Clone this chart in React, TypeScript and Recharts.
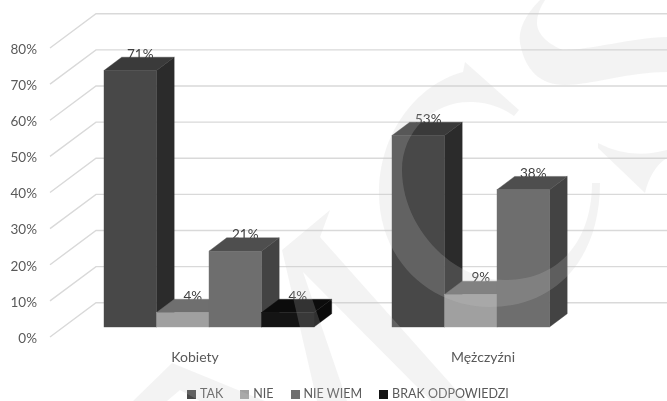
import React from 'react';
import { BarChart, Bar, XAxis, YAxis, CartesianGrid, Legend } from 'recharts';

const categories = ['Kobiety', 'Mężczyźni'];
const tak = [71, 53];
const nie = [4, 9];
const nieWiem = [21, 38];
const brak: (number | null)[] = [4, null];
const yTicks = [0, 10, 20, 30, 40, 50, 60, 70, 80];

const rows = categories.map((name, i) => ({
  name,
  TAK: tak[i],
  NIE: nie[i],
  'NIE WIEM': nieWiem[i],
  'BRAK ODPOWIEDZI': brak[i],
}));

const FONT = 'Lato, "Open Sans", sans-serif';
const DX = 17.7;
const DY = 13.3;

const makeBox = (top: string, side: string) => (props: any) => {
  const { x, y, width: w, height: h, fill, value } = props;
  if (value == null) return <g />;
  const label = Array.isArray(value) ? value[1] : value;
  return (
    <g>
      <text
        x={x + w / 2 + 10}
        y={y - 17}
        textAnchor="middle"
        dominantBaseline="central"
        fontFamily={FONT}
        fontSize={13.5}
        fill="#404040"
      >
        {label}%
      </text>
      <polygon points={`${x + w},${y} ${x + w + DX},${y - DY} ${x + w + DX},${y + h - DY} ${x + w},${y + h}`} fill={side} stroke={side} strokeWidth={0.4} />
      <polygon points={`${x},${y} ${x + DX},${y - DY} ${x + w + DX},${y - DY} ${x + w},${y}`} fill={top} stroke={top} strokeWidth={0.4} />
      <rect x={x} y={y} width={w} height={h} fill={fill} stroke={fill} strokeWidth={0.4} />
    </g>
  );
};

const gridLine = (props: any) => {
  const y = props.y1;
  return (
    <g key={props.key ?? y}>
      <polyline
        points={`50,${y + 10} 96,${y - 24.3} 667,${y - 24.3}`}
        fill="none"
        stroke="#d9d9d9"
        strokeWidth={1.4}
      />
    </g>
  );
};

const legendContent = (props: any) => (
  <div style={{ display: 'flex', alignItems: 'center', gap: 17, paddingLeft: 187, fontFamily: FONT, fontSize: 12.5, color: '#595959', lineHeight: '16px', whiteSpace: 'nowrap' }}>
    {(props.payload || []).map((p: any) => (
      <span key={p.value} style={{ display: 'inline-flex', alignItems: 'center', gap: 4 }}>
        <span style={{ width: 9, height: 9, background: p.color, display: 'inline-block' }} />
        {p.value}
      </span>
    ))}
  </div>
);

const Watermark = () => (
  <svg width={667} height={401} style={{ position: 'absolute', left: 0, top: 0, pointerEvents: 'none' }}>
    <g fill="#c8c8c8" fillOpacity={0.21}>
      <path d="M330 210 L282 250 L317 401 L347 401 L303 272 L431 401 L466 401 L320 237 Z" />
      <path d="M133 401 L172 363 L265 401 L200 401 L180 390 L167 401 Z" />
      <path d="M465 62 L463 72 C415 85 379 135 379 193 C379 260 430 307 490 307 C555 307 600 260 600 183 L592 183 C592 240 560 280 505 280 C450 280 402 225 402 170 C402 130 435 100 473 102 C490 103 503 108 514 116 L519 110 Z" />
      <path d="M540 0 C525 15 518 30 520 43 C525 70 540 85 565 85 C590 85 630 72 667 72 L667 37 C630 38 590 50 563 50 C550 45 537 35 537 23 C537 15 540 8 545 0 Z" />
      <path d="M598 143 Q630 160 667 150 L667 158 C655 165 648 180 645 193 L598 148 Z" />
    </g>
  </svg>
);

export default function App() {
  return (
    <div style={{ position: 'absolute', left: 0, top: 0, width: 667, height: 401, background: '#fff', overflow: 'hidden', filter: 'blur(0.35px)' }}>
      <BarChart
        width={667}
        height={401}
        data={rows}
        margin={{ top: 38, right: 26, bottom: 28, left: 0 }}
        barGap={0}
        barSize={52.5}
      >
        <CartesianGrid vertical={false} horizontal={gridLine} />
        <XAxis
          dataKey="name"
          axisLine={false}
          tickLine={false}
          tickMargin={19}
          tick={{ dx: -14, fill: '#595959', fontSize: 14, fontFamily: FONT }}
        />
        <YAxis
          width={65}
          domain={[0, 80]}
          ticks={yTicks}
          axisLine={false}
          tickLine={false}
          tickMargin={22}
          tickFormatter={(v: number) => `${v}%`}
          tick={{ dy: 11, fill: '#595959', fontSize: 13.5, fontFamily: FONT }}
        />
        <Legend content={legendContent} itemSorter={null} wrapperStyle={{ left: 0, top: 386, width: 667 }} />
        <Bar dataKey="TAK" fill="#484848" isAnimationActive={false} shape={makeBox('#3a3a3a', '#2b2b2b')} />
        <Bar dataKey="NIE" fill="#a0a0a0" isAnimationActive={false} shape={makeBox('#6f6f6f', '#555555')} />
        <Bar dataKey="NIE WIEM" fill="#6e6e6e" isAnimationActive={false} shape={makeBox('#4e4e4e', '#434343')} />
        <Bar dataKey="BRAK ODPOWIEDZI" fill="#141414" isAnimationActive={false} shape={makeBox('#0c0c0c', '#0a0a0a')} />
      </BarChart>
      <Watermark />
    </div>
  );
}
